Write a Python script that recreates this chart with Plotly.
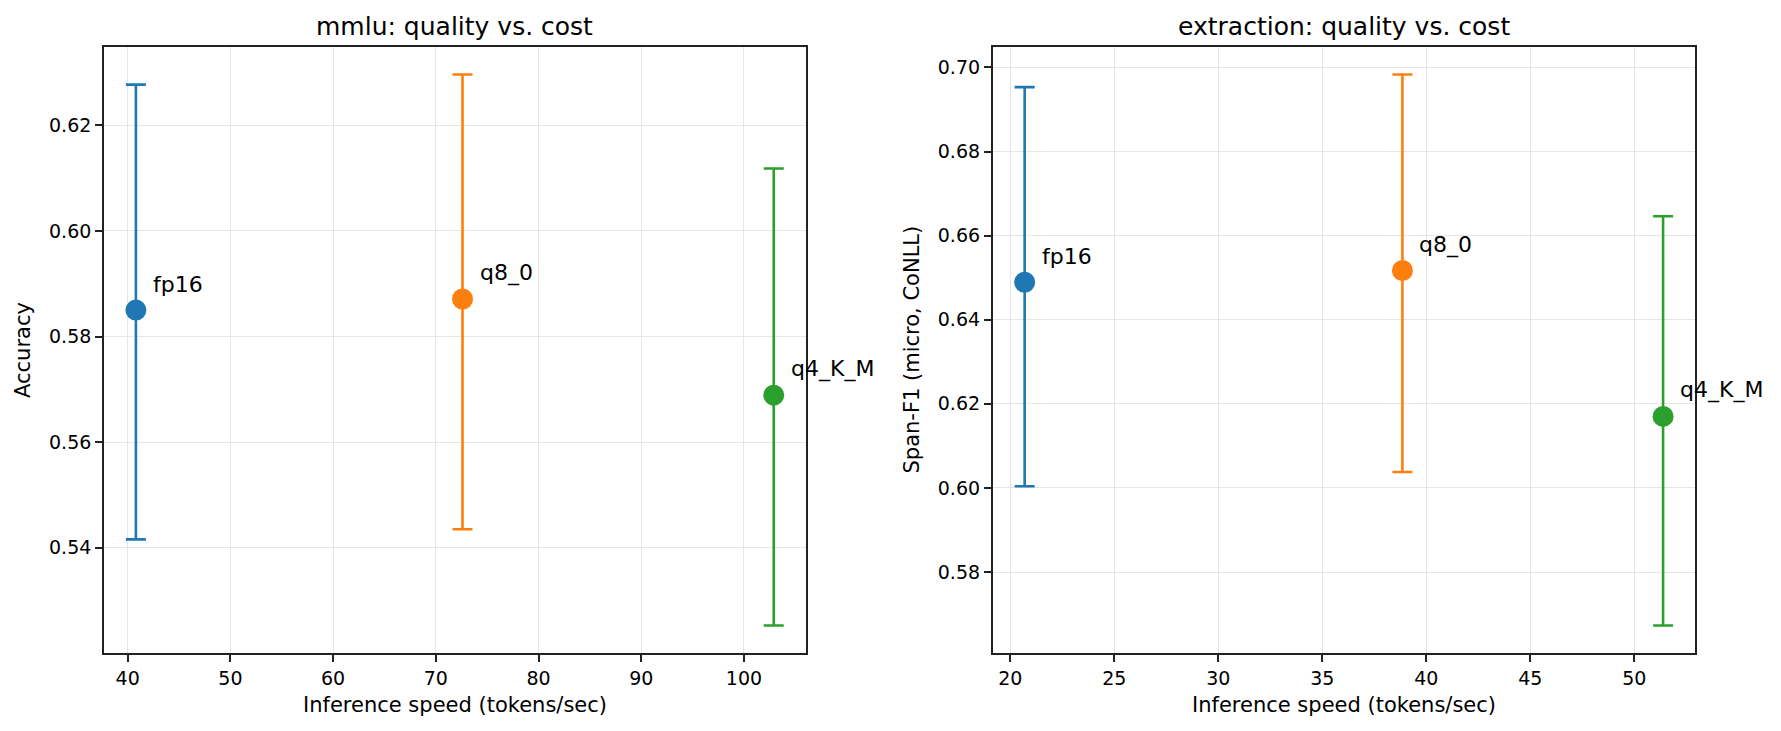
import plotly.graph_objects as go

# ---- data ----
models = ["fp16", "q8_0", "q4_K_M"]
colors = ["#1f77b4", "#ff7f0e", "#2ca02c"]

mmlu_speed = [40.8, 72.6, 102.9]
mmlu_acc = [0.5850, 0.5871, 0.5689]
mmlu_hi = [0.6277, 0.6296, 0.6118]
mmlu_lo = [0.5416, 0.5435, 0.5253]

ext_speed = [20.69, 38.85, 51.38]
ext_f1 = [0.6489, 0.6517, 0.6170]
ext_hi = [0.6953, 0.6983, 0.6646]
ext_lo = [0.6004, 0.6038, 0.5673]

panels = [
    dict(title="mmlu: quality vs. cost", ylabel="Accuracy", x=mmlu_speed, y=mmlu_acc,
         hi=mmlu_hi, lo=mmlu_lo, xdtick=10, xtick0=0),
    dict(title="extraction: quality vs. cost", ylabel="Span-F1 (micro, CoNLL)", x=ext_speed, y=ext_f1,
         hi=ext_hi, lo=ext_lo, xdtick=5, xtick0=0),
]

FONT = "DejaVu Sans"
W, H = 1781, 731
ML, MR, MT, MB = 104, 86, 47, 78
domains = [[0.0, 0.4410], [0.5586, 1.0]]

fig = go.Figure()
annotations = []

def pad_range(lo_vals, hi_vals):
    a, b = min(lo_vals), max(hi_vals)
    m = (b - a) * 0.05
    return [a - m, b + m]

for p_i, p in enumerate(panels):
    xa = "x" if p_i == 0 else "x2"
    ya = "y" if p_i == 0 else "y2"
    for i, m in enumerate(models):
        fig.add_trace(go.Scatter(
            x=[p["x"][i]], y=[p["y"][i]], mode="markers", xaxis=xa, yaxis=ya,
            marker=dict(color=colors[i], size=21, line=dict(width=0)),
            error_y=dict(type="data", symmetric=False,
                         array=[p["hi"][i] - p["y"][i]],
                         arrayminus=[p["y"][i] - p["lo"][i]],
                         color=colors[i], thickness=2.6, width=10),
            showlegend=False, name=m,
        ))
        annotations.append(dict(
            x=p["x"][i], y=p["y"][i], xref=xa, yref=ya, text=m, showarrow=False,
            xanchor="left", yanchor="bottom", xshift=15, yshift=11,
            font=dict(family=FONT, size=22, color="black"),
        ))
    xr = pad_range(p["x"], p["x"])
    yr = pad_range(p["lo"], p["hi"])
    axis_common = dict(showline=True, mirror=True, linecolor="#222222", linewidth=1.7,
                       ticks="outside", ticklen=7, tickwidth=1.7, tickcolor="#222222",
                       showgrid=True, gridcolor="#e6e6e6", gridwidth=1.4, zeroline=False,
                       tickfont=dict(family=FONT, size=19, color="black"))
    xkey = "xaxis" if p_i == 0 else "xaxis2"
    ykey = "yaxis" if p_i == 0 else "yaxis2"
    fig.update_layout(**{
        xkey: dict(domain=domains[p_i], range=xr, dtick=p["xdtick"], tick0=p["xtick0"],
                   anchor=ya, **axis_common),
        ykey: dict(domain=[0, 1], range=yr, dtick=0.02, tick0=0, tickformat=".2f",
                   anchor=xa, **axis_common),
    })
    xmid = (domains[p_i][0] + domains[p_i][1]) / 2
    annotations.append(dict(x=xmid, y=1, xref="paper", yref="paper", text=p["title"],
                            showarrow=False, xanchor="center", yanchor="bottom", yshift=4,
                            font=dict(family=FONT, size=25, color="black")))
    annotations.append(dict(x=xmid, y=0, xref="paper", yref="paper",
                            text="Inference speed (tokens/sec)", showarrow=False,
                            xanchor="center", yanchor="middle", yshift=-52,
                            font=dict(family=FONT, size=21, color="black")))
    yl_x = 23 if p_i == 0 else 911.5
    annotations.append(dict(x=domains[p_i][0], y=0.5, xref="paper", yref="paper",
                            text=p["ylabel"], showarrow=False, textangle=-90,
                            xanchor="center", yanchor="middle",
                            xshift=yl_x - (ML + domains[p_i][0] * (W - ML - MR)),
                            font=dict(family=FONT, size=21, color="black")))

fig.update_layout(width=W, height=H, margin=dict(l=ML, r=MR, t=MT, b=MB),
                  paper_bgcolor="white", plot_bgcolor="white",
                  annotations=annotations, font=dict(family=FONT))

fig.write_html("out.html")
